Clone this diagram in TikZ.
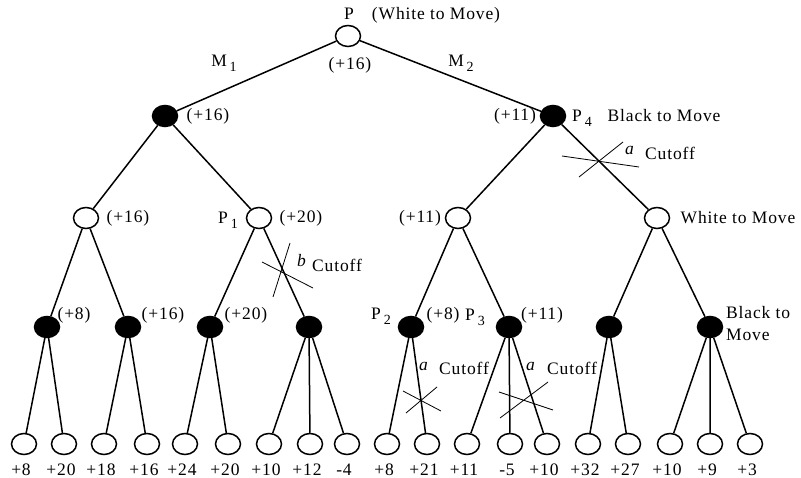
\documentclass[tikz,border=0pt]{standalone}
\usepackage{fontspec}
\setmainfont{Liberation Serif}[LetterSpace=5]
\usetikzlibrary{shapes.geometric}
\newcommand{\idx}[1]{\,\raisebox{-5pt}{\fontsize{14}{14}\selectfont #1}}

\begin{document}
\begin{tikzpicture}[x=1pt, y=-1pt, line width=1.5pt,
    every node/.style={font=\fontsize{17.5}{22}\selectfont},
    wnode/.style={ellipse, draw, fill=white, minimum width=25pt, minimum height=21pt, inner sep=0pt},
    bnode/.style={wnode, fill=black},
    val/.style={label={[xshift=-3pt, inner sep=1pt, label distance=7pt]below:#1}},
    cut/.style={line width=0.8pt}]
  \useasboundingbox (0,0) rectangle (801,478);

  \node[wnode] (r) at (348,36) {};
  \node[bnode] (m1) at (165,116) {};
  \node[bnode] (p4) at (553,116) {};
  \node[wnode] (m1a) at (86,218) {};
  \node[wnode] (p1) at (259,218) {};
  \node[wnode] (p4a) at (458,218) {};
  \node[wnode] (p4b) at (657,218) {};

  \node[bnode] (q1) at (47,327) {};
  \node[bnode] (q2) at (128,327) {};
  \node[bnode] (q3) at (210,327) {};
  \node[bnode] (q4) at (309,327) {};
  \node[bnode] (p2) at (411,327) {};
  \node[bnode] (p3) at (509,327) {};
  \node[bnode] (q7) at (609,327) {};
  \node[bnode] (q8) at (710,327) {};

  \node[wnode, val=+8] (l1) at (24,444) {};
  \node[wnode, val=+20] (l2) at (64,444) {};
  \node[wnode, val=+18] (l3) at (104,444) {};
  \node[wnode, val=+16] (l4) at (147,444) {};
  \node[wnode, val=+24] (l5) at (185,444) {};
  \node[wnode, val=+20] (l6) at (228,444) {};
  \node[wnode, val=+10] (l7) at (269,444) {};
  \node[wnode, val=+12] (l8) at (310,444) {};
  \node[wnode, val=-4] (l9) at (347,444) {};
  \node[wnode, val=+8] (l10) at (387,444) {};
  \node[wnode, val=+21] (l11) at (427,444) {};
  \node[wnode, val=+11] (l12) at (467,444) {};
  \node[wnode, val=-5] (l13) at (510,444) {};
  \node[wnode, val=+10] (l14) at (547,444) {};
  \node[wnode, val=+32] (l15) at (588,444) {};
  \node[wnode, val=+27] (l16) at (628,444) {};
  \node[wnode, val=+10] (l17) at (670,444) {};
  \node[wnode, val=+9] (l18) at (710,444) {};
  \node[wnode, val=+3] (l19) at (750,444) {};

  \draw (r) -- (m1) (r) -- (p4)
    (m1) -- (m1a) (m1) -- (p1) (p4) -- (p4a) (p4) -- (p4b)
    (m1a) -- (q1) (m1a) -- (q2) (p1) -- (q3) (p1) -- (q4)
    (p4a) -- (p2) (p4a) -- (p3) (p4b) -- (q7) (p4b) -- (q8)
    (q1) -- (l1) (q1) -- (l2) (q2) -- (l3) (q2) -- (l4)
    (q3) -- (l5) (q3) -- (l6) (q4) -- (l7) (q4) -- (l8) (q4) -- (l9)
    (p2) -- (l10) (p2) -- (l11) (p3) -- (l12) (p3) -- (l13) (p3) -- (l14)
    (q7) -- (l15) (q7) -- (l16) (q8) -- (l17) (q8) -- (l18) (q8) -- (l19);

  \node (tp) at (349,14) {P};
  \node (tw) at (436,15) {(White to Move)};
  \node (tv) at (350,65) {(+16)};
  \node (tm1) at (224,63) {M\idx{1}};
  \node (tm2) at (461,63) {M\idx{2}};
  \node (v1) at (208,116) {(+16)};
  \node (v2) at (515,116) {(+11)};
  \node (tp4) at (582,118) {P\idx{4}};
  \node (tb) at (664,116) {Black to Move};
  \node (v3) at (128,218) {(+16)};
  \node (tp1) at (228,220) {P\idx{1}};
  \node (v4) at (301,218) {(+20)};
  \node (v5) at (420,218) {(+11)};
  \node (tw2) at (738,218) {White to Move};
  \node (v6) at (74,315) {(+8)};
  \node (v7) at (163,315) {(+16)};
  \node (v8) at (246,315) {(+20)};
  \node (tp2) at (381,316) {P\idx{2}};
  \node (v9) at (443,315) {(+8)};
  \node (tp3) at (475,317) {P\idx{3}};
  \node (v10) at (542,315) {(+11)};
  \node[anchor=west, align=left] (tbm) at (722,324) {Black to\\Move};

  \draw[cut] (562,156) -- (639,167) (579,177) -- (623,142);
  \node (a1) at (630,150) {\textit{a}};
  \node (c1) at (670,153) {Cutoff};
  \draw[cut] (262,262) -- (313,288) (273,297) -- (290,243);
  \node (b1) at (302,261) {\textit{b}};
  \node (c2) at (337,265) {Cutoff};
  \draw[cut] (403,391) -- (441,411) (406,413) -- (437,387);
  \node (a2) at (424,366) {\textit{a}};
  \node (c3) at (464,368) {Cutoff};
  \draw[cut] (499,392) -- (553,410) (500,418) -- (548,382);
  \node (a3) at (531,366) {\textit{a}};
  \node (c4) at (572,368) {Cutoff};
\end{tikzpicture}
\end{document}
